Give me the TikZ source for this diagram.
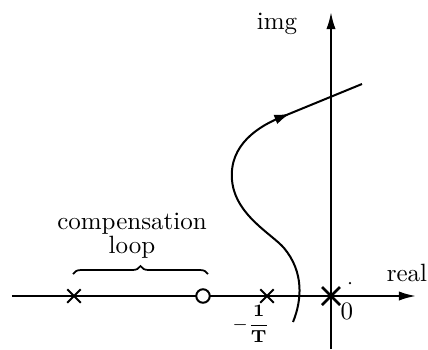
\documentclass[tikz,border=0pt]{standalone}
\usepackage{amsmath,amssymb}
\usepackage{xcolor}
\usepackage{tikz}
\usetikzlibrary{shapes.misc,arrows.meta,positioning,decorations.pathreplacing}
\tikzset{
  axisline/.style={-{Latex[length=2.4mm,width=1.3mm]},line width=0.8pt},
  pole/.style={cross out,draw,line width=0.8pt,minimum size=4.6pt,inner sep=0pt},
  bigpole/.style={cross out,draw,line width=1pt,minimum size=6.2pt,inner sep=0pt},
  zero/.style={circle,draw,line width=0.8pt,fill=white,minimum size=5.4pt,inner sep=0pt},
  locus/.style={line width=0.8pt},
  lbl/.style={font=\normalsize,inner sep=1pt}
}

\begin{document}
\begin{tikzpicture}[x=0.4pt,y=-0.4pt]
  \useasboundingbox (0,0) rectangle (428,349);

  % axes
  \coordinate (rl) at (12,296);
  \coordinate (rr) at (416,296);
  \coordinate (ib) at (331,349);
  \coordinate (it) at (331,12);
  \draw[axisline] (rl) -- (rr);
  \draw[axisline] (ib) -- (it);

  % poles and zero
  \node[pole]    (p1) at (74,296)  {};
  \node[zero]    (z1) at (203,296) {};
  \node[pole]    (p2) at (267,296) {};
  \node[bigpole] (p0) at (331,296) {};

  % root locus branch
  \coordinate (ls) at (293,322);
  \coordinate (ar) at (290,113.6);
  \coordinate (le) at (362,84);
  \draw[locus] (ls) .. controls (302,300) and (304,272) .. (284,248)
    .. controls (272,234) and (235,215) .. (232,180)
    .. controls (229,145) and (258,126) .. (284,116) -- (le);
  \draw[locus,-{Latex[length=2.2mm,width=1.4mm]}] (278,118.4) -- (ar);

  % brace over the compensation pair
  \draw[line width=0.7pt,decorate,decoration={brace,amplitude=3.2pt}]
    (73,274) -- (208,274);

  % labels
  \node[lbl] (img)  at (277,24)  {img};
  \node[lbl] (real) at (407,273) {real};
  \node[lbl] (org)  at (347,311) {0};
  \node[lbl,font=\fontsize{7}{8.4}\selectfont] (invt) at (251,324)
    {$-\dfrac{\mathbf{1}}{\mathbf{T}}$};
  \node[lbl,align=center,font=\fontsize{10}{9.6}\selectfont]
    (comp) at (132,236) {compensation\\loop};
  \fill (350,283) circle (0.5pt);
\end{tikzpicture}
\end{document}
